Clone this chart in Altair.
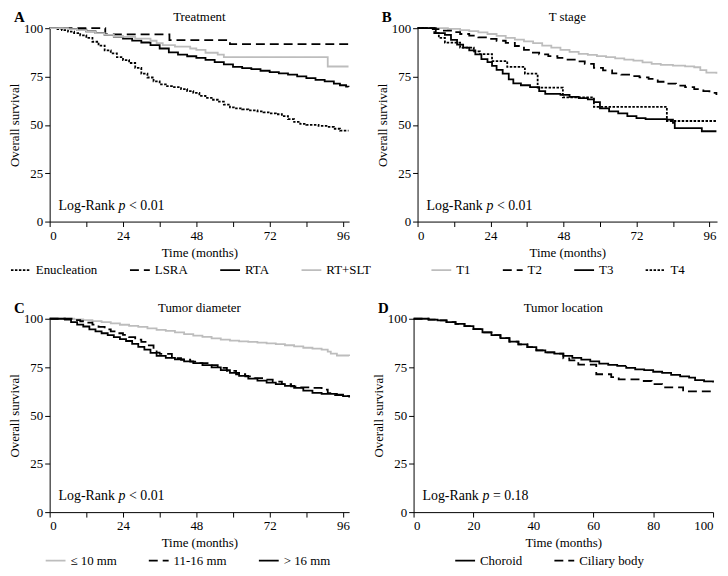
import altair as alt
import pandas as pd

FONT = "Liberation Serif"
GRAY = "#bdbdbd"
BLACK = "#000000"
SOLID = [1, 0]
DASH = [9, 5]
DOT = [2.5, 1.5]
W = 302
H = 195

# ---------------- Panel A : Treatment ----------------
a_groups = ["Enucleation", "LSRA", "RTA", "RT+SLT"]
a_enuc_t = [0, 2, 4, 6, 8, 10, 12, 14, 16, 18, 20, 22, 24, 26, 28, 30, 32, 34, 36, 38, 40, 43, 45, 47, 49, 51, 53, 55, 57, 59, 61, 63, 65, 68, 70, 72, 74, 76, 78, 80, 82, 84, 88, 91, 93, 95, 97.8]
a_enuc_s = [100, 99.5, 99, 98.2, 97.5, 96.3, 95, 93, 91, 88.5, 87, 85, 83.5, 82, 79.5, 76.5, 74.5, 72.5, 71, 70, 69.5, 68.5, 67.5, 66.5, 65, 64, 63, 62, 60.5, 59, 58.5, 58, 57.5, 57, 56.5, 56, 55.5, 54.5, 53, 51.5, 50.5, 50, 49.5, 49, 48, 47, 47]
a_lsra_t = [0, 18.2, 39.2, 59, 97.8]
a_lsra_s = [100, 96.8, 93.8, 91.8, 91.8]
a_rta_t = [0, 3, 6, 9, 12, 15, 18, 21, 24, 27, 30, 33, 36, 39, 42, 45, 48, 51, 54, 57, 60, 63, 66, 69, 72, 75, 78, 81, 84, 87, 90, 93, 95, 97, 97.8]
a_rta_s = [100, 100, 99.6, 99.2, 98.4, 97.6, 96.5, 95.6, 94.6, 93.6, 92.6, 91.2, 89.5, 87.5, 86.3, 85.5, 84.6, 83.6, 82.5, 81.3, 80, 79.4, 78.8, 78, 77.3, 76.6, 76, 75.1, 74.2, 73.3, 72.5, 71.3, 70.5, 69.8, 69.6]
a_rtslt_t = [0, 4, 6, 9, 12, 15, 18, 21, 24, 28, 33, 35, 37, 41, 46, 48, 51, 55, 57, 91, 97.8]
a_rtslt_s = [100, 100, 99.5, 99, 98.2, 97.5, 96.5, 95.8, 95.5, 94.6, 93.5, 92.3, 91.3, 90.5, 89.5, 88.8, 87.3, 86.3, 85, 80.2, 80.2]

# ---------------- Panel B : T stage ----------------
b_groups = ["T1", "T2", "T3", "T4"]
b_t1_t = [0, 8, 10, 14, 17, 20, 23, 26, 29, 32, 35, 38, 41, 44, 47, 50, 53, 56, 59, 62, 65, 68, 71, 74, 77, 80, 84, 88, 91, 93, 95, 98.3]
b_t1_s = [100, 100, 99.7, 99, 98.5, 97.8, 97, 96, 95, 94.1, 93.2, 92.3, 91, 90, 88.8, 87.8, 86.7, 86.2, 85.6, 85, 84.4, 83.8, 83.2, 82.3, 81.6, 81, 80.7, 80.3, 79.8, 78.3, 77, 76.5]
b_t2_t = [0, 5, 8, 11, 14, 17, 20, 23, 26, 29, 32, 35, 37, 40, 43, 46, 49, 52, 55, 58, 61, 64, 67, 70, 73, 76, 79, 82, 85, 88, 91, 94, 96, 98.3]
b_t2_s = [100, 99.5, 98.8, 98, 97, 96.2, 95.3, 94.5, 93.5, 92.4, 90.8, 88.8, 87.4, 86.5, 85.6, 84.6, 83.8, 82.8, 81.6, 79.5, 78.2, 76.6, 76, 75.2, 74.6, 73.8, 72.3, 71.3, 70.3, 69.5, 68.5, 67.5, 66.5, 65.5]
b_t3_t = [0, 6, 9, 11, 13, 15, 17, 19, 21, 23, 24.5, 26, 28, 30, 31.5, 34, 37, 40, 42, 47, 50, 53, 56, 58, 60, 63, 66, 69, 72, 75, 82, 84, 84.6, 93.5, 98.3]
b_t3_s = [100, 97.5, 96.5, 94, 91.5, 90, 88.5, 86.5, 84, 82.5, 80.5, 78.5, 76.5, 73.5, 71.5, 70.5, 69.5, 67.5, 66, 65.5, 64.5, 63.8, 63.2, 61.8, 58.5, 57, 56, 54.5, 53.5, 53, 52.7, 51, 48.3, 46.7, 46.7]
b_t4_t = [0, 5.5, 7, 9, 14, 18.5, 20.5, 24.5, 29.5, 35.3, 39.5, 47.8, 58, 82, 98.3]
b_t4_s = [100, 97.5, 95, 92.5, 90, 88, 86.6, 83, 80, 76.5, 69.3, 64.2, 59.3, 52, 52]

# ---------------- Panel C : Tumor diameter ----------------
c_groups = ["\u2264 10 mm", "11-16 mm", "> 16 mm"]
c_small_t = [0, 6, 8, 11, 14, 17, 20, 23, 26, 29, 32, 35, 38, 41, 44, 47, 50, 53, 56, 59, 62, 65, 68, 71, 74, 77, 80, 83, 86, 89, 91, 92, 94, 98]
c_small_s = [100, 100, 99.7, 99.3, 98.8, 98.2, 97.6, 96.9, 96.3, 95.8, 95, 94.3, 93.7, 93, 92, 91.3, 90.6, 89.8, 89.2, 88.7, 88.3, 88, 87.7, 87.3, 86.9, 86.3, 85.7, 85, 84.6, 84, 83, 82, 81, 80.8]
c_mid_t = [0, 6, 8, 10, 12, 14, 16, 18, 20, 22, 24, 26, 28, 30, 32, 34, 35, 36, 40, 43, 46, 49, 52, 55, 58, 61, 64, 67, 70, 73, 76, 79, 82, 85, 89, 91, 93, 96, 98]
c_mid_s = [100, 100, 99.3, 98.7, 98, 97, 95.8, 94.5, 93.5, 92.5, 91.7, 90.5, 89.2, 88, 86.2, 84, 82.5, 81.8, 79.6, 78.8, 77.8, 77, 76, 74.6, 73, 71.3, 70.2, 69.3, 68.5, 67.5, 66.2, 65, 64.5, 64.2, 63.4, 61.5, 60.5, 60, 59.3]
c_large_t = [0, 5, 7, 9, 11, 13, 15, 17, 19, 21, 23, 25, 27, 29, 31, 33, 35, 38, 41, 44, 47, 50, 53, 56, 59, 62, 65, 68, 71, 74, 77, 80, 83, 86, 89, 94, 96, 98]
c_large_s = [100, 99.5, 98.2, 97, 96, 94.5, 93.5, 92.5, 91.5, 90.5, 89.5, 88.5, 87, 85.5, 84, 82.3, 80.8, 79.8, 79, 78, 77, 76, 74.8, 73.4, 72, 70.5, 69, 68, 67, 66.2, 65.3, 64.3, 62.8, 61.7, 61.2, 60.8, 60, 59.6]

# ---------------- Panel D : Tumor location ----------------
d_groups = ["Choroid", "Ciliary body"]
d_cho_t = [0, 3, 5, 8, 11, 14, 17, 20, 23, 26, 29, 32, 35, 38, 41, 44, 47, 50, 53, 56, 59, 62, 65, 68, 71, 74, 77, 80, 83, 86, 89, 92, 94, 97, 100]
d_cho_s = [100, 100, 99.6, 99.2, 98.2, 97.4, 96.2, 94.6, 93, 91.5, 90, 88.2, 86.8, 85.3, 83.6, 82.6, 82, 80.8, 79.8, 78.9, 78, 76.8, 76.2, 75.6, 74.6, 73.8, 73.4, 72.6, 72, 71, 70.2, 69.5, 68.3, 67.6, 67]
d_cil_t = [0, 3, 5, 8, 11, 14, 17, 20, 23, 26, 29, 32, 35, 38, 41, 44, 47, 50, 52, 55, 61, 66, 68.5, 76, 79.5, 83, 90, 100]
d_cil_s = [100, 100, 99.6, 99.2, 98.2, 97.4, 96.2, 94.6, 93, 91.5, 90, 88.2, 86.8, 85.3, 83.6, 82.6, 82, 79.5, 78.5, 76.3, 71.3, 69.8, 68.6, 67.8, 66.2, 64.5, 62.4, 62.4]


def make_df(series):
    rows = []
    for name, ts, ss in series:
        for t, s in zip(ts, ss):
            rows.append({"time": t, "surv": s, "group": name})
    return pd.DataFrame(rows)


def txt(value, x, y, size=13, **kw):
    return alt.Chart(pd.DataFrame({"t": [value]})).mark_text(
        font=FONT, fontSize=size, baseline="alphabetic", color="black", **kw
    ).encode(text="t:N", x=alt.value(x), y=alt.value(y))


def panel(df, groups, colors, dashes, title, letter, xmax, xticks, label_step,
          leg_x, ptext):
    leg = alt.Legend(orient="none", legendX=leg_x, legendY=H + 38,
                     direction="horizontal", title=None)
    label_expr = "datum.value % " + str(label_step) + " === 0 ? datum.label : ''"
    lines = alt.Chart(df).mark_line(interpolate="step-after", strokeWidth=1.8).encode(
        x=alt.X("time:Q",
                scale=alt.Scale(domain=[0, xmax], nice=False, zero=True),
                axis=alt.Axis(values=xticks, labelExpr=label_expr,
                              title="Time (months)", labelPadding=3, titlePadding=4)),
        y=alt.Y("surv:Q",
                scale=alt.Scale(domain=[0, 100], nice=False),
                axis=alt.Axis(values=[0, 25, 50, 75, 100],
                              title="Overall survival", labelPadding=2, titlePadding=2)),
        color=alt.Color("group:N", scale=alt.Scale(domain=groups, range=colors),
                        legend=leg, sort=groups),
        strokeDash=alt.StrokeDash("group:N", scale=alt.Scale(domain=groups, range=dashes),
                                  legend=leg, sort=groups),
    )
    t_letter = txt(letter, -36, -6, size=15, fontWeight="bold", align="left")
    t_title = txt(title, W / 2, -7, size=13, align="center")
    p1 = txt("Log-Rank", 9, H - 12, size=14, align="left")
    p2 = txt("p", 69.5, H - 12, size=14, fontStyle="italic", align="left")
    p3 = txt(ptext, 80, H - 12, size=14, align="left")
    return alt.layer(lines, t_letter, t_title, p1, p2, p3).properties(width=W, height=H)


df_a = make_df([("Enucleation", a_enuc_t, a_enuc_s), ("LSRA", a_lsra_t, a_lsra_s),
                ("RTA", a_rta_t, a_rta_s), ("RT+SLT", a_rtslt_t, a_rtslt_s)])
df_b = make_df([("T1", b_t1_t, b_t1_s), ("T2", b_t2_t, b_t2_s),
                ("T3", b_t3_t, b_t3_s), ("T4", b_t4_t, b_t4_s)])
df_c = make_df([(c_groups[0], c_small_t, c_small_s), (c_groups[1], c_mid_t, c_mid_s),
                (c_groups[2], c_large_t, c_large_s)])
df_d = make_df([("Choroid", d_cho_t, d_cho_s), ("Ciliary body", d_cil_t, d_cil_s)])

ticks12 = [0, 12, 24, 36, 48, 60, 72, 84, 96]
ticks20 = [0, 20, 40, 60, 80, 100]

pa = panel(df_a, a_groups, [BLACK, BLACK, BLACK, GRAY], [DOT, DASH, SOLID, SOLID],
           "Treatment", "A", 98, ticks12, 24, -40, "< 0.01")
pb = panel(df_b, b_groups, [GRAY, BLACK, BLACK, BLACK], [SOLID, DASH, SOLID, DOT],
           "T stage", "B", 98.5, ticks12, 24, 13, "< 0.01")
pc = panel(df_c, c_groups, [GRAY, BLACK, BLACK], [SOLID, DASH, SOLID],
           "Tumor diameter", "C", 98, ticks12, 24, -5, "< 0.01")
pd_ = panel(df_d, d_groups, [BLACK, BLACK], [SOLID, DASH],
            "Tumor location", "D", 100, ticks20, 20, 41, "= 0.18")

row1 = alt.hconcat(pa, pb, spacing=4).resolve_scale(
    color="independent", strokeDash="independent", x="independent", y="independent")
row2 = alt.hconcat(pc, pd_, spacing=19).resolve_scale(
    color="independent", strokeDash="independent", x="independent", y="independent")

chart = alt.vconcat(row1, row2, spacing=24).resolve_scale(
    color="independent", strokeDash="independent", x="independent", y="independent"
).properties(padding=0).configure_view(stroke=None).configure_axis(
    labelFont=FONT, titleFont=FONT, labelFontSize=13, titleFontSize=13,
    titleFontWeight="normal", domainColor="black", tickColor="black",
    labelColor="black", titleColor="black", grid=False, tickSize=5,
    domainWidth=1, tickWidth=1
).configure_legend(
    labelFont=FONT, labelFontSize=13, symbolType="stroke", symbolSize=400,
    symbolStrokeWidth=1.8, labelColor="black", columnPadding=28, labelOffset=4
)

chart.save("out.html", embed_options={"renderer": "svg", "actions": False})
